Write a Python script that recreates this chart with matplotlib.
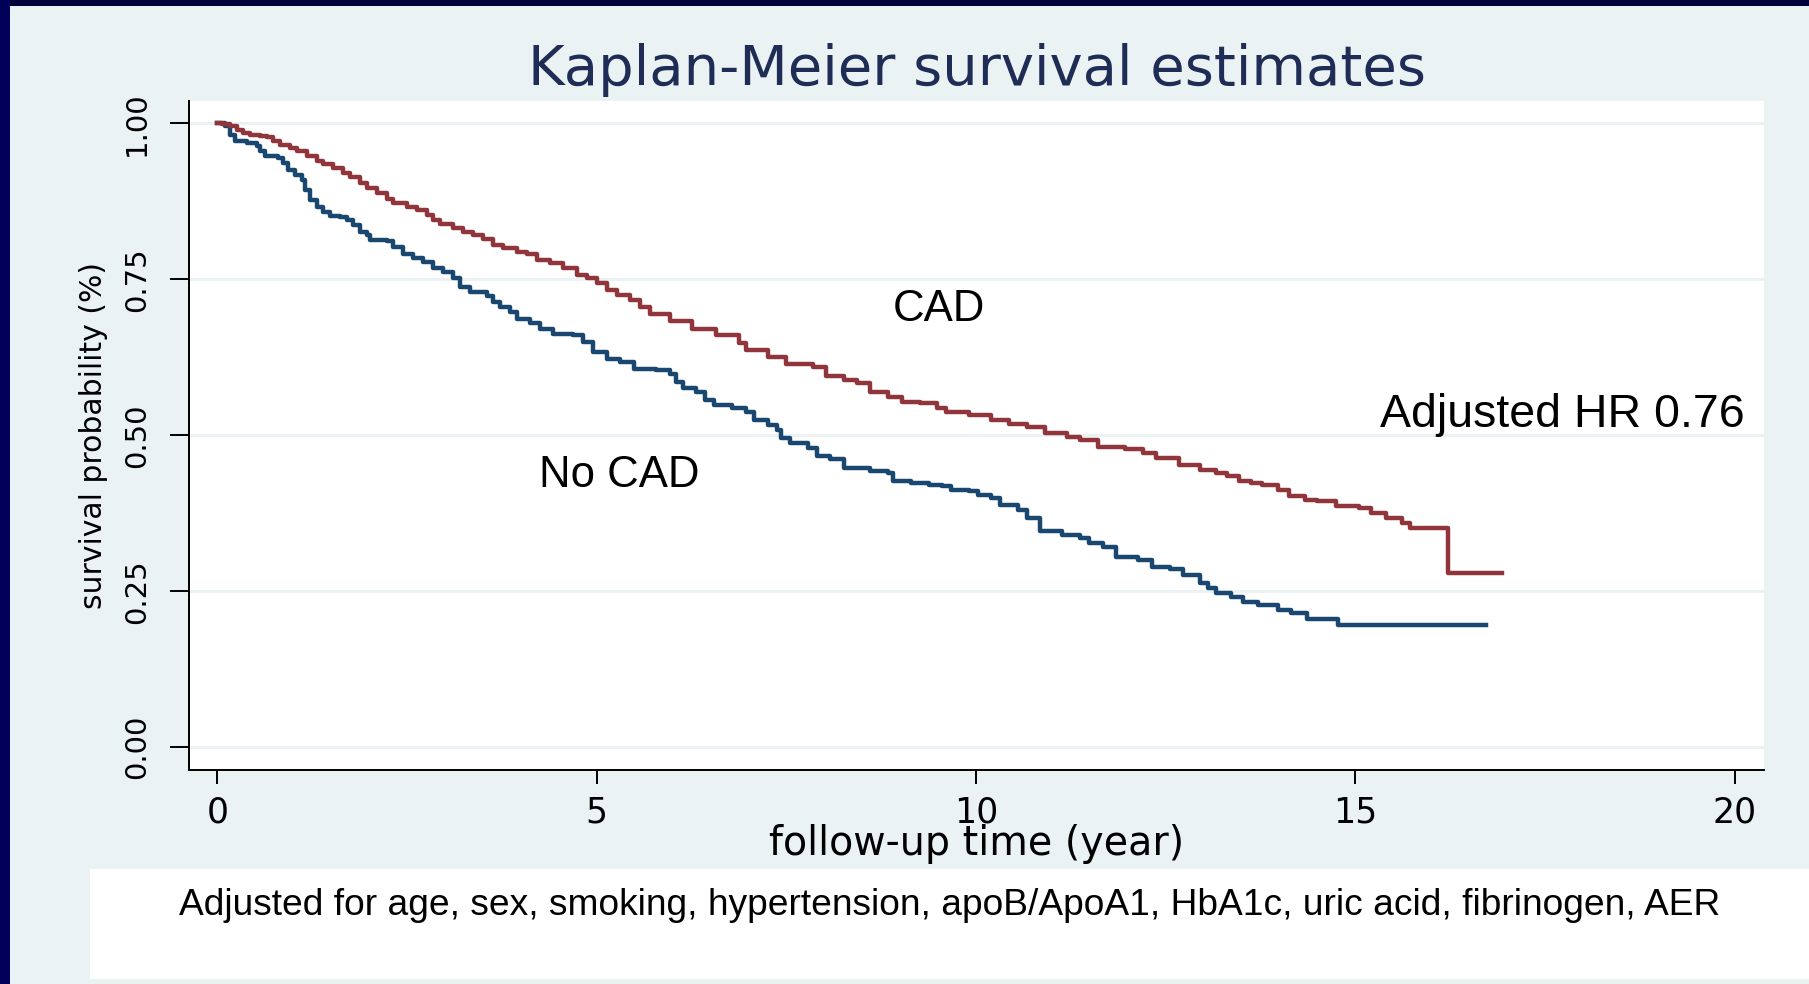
import matplotlib
matplotlib.use('Agg')
import matplotlib.pyplot as plt
from matplotlib.patches import Rectangle

# CAD group (red)
cad_time = [0, 0.056, 0.166, 0.254, 0.342, 0.430, 0.561, 0.649, 0.737, 0.825, 0.957, 1.045,
            1.177, 1.308, 1.396, 1.528, 1.660, 1.748, 1.880, 1.967, 2.099, 2.231, 2.319, 2.495,
            2.626, 2.758, 2.846, 2.934, 3.110, 3.241, 3.373, 3.505, 3.637, 3.769, 3.945, 4.076,
            4.208, 4.384, 4.560, 4.735, 4.867, 4.999, 5.131, 5.262, 5.438, 5.570, 5.702, 5.96,
            6.26, 6.57, 6.87, 6.961, 7.256, 7.491, 7.844, 8.020, 8.256, 8.432, 8.608, 8.844,
            9.021, 9.255, 9.491, 9.609, 9.904, 10.198, 10.432, 10.668, 10.903, 11.197, 11.375,
            11.609, 11.962, 12.198, 12.375, 12.669, 12.951, 13.156, 13.310, 13.463, 13.617,
            13.770, 13.975, 14.128, 14.334, 14.487, 14.743, 15.049, 15.203, 15.408, 15.612,
            15.715, 16.218, 16.933]
cad_surv = [1.000, 0.999, 0.995, 0.990, 0.984, 0.982, 0.979, 0.978, 0.971, 0.965, 0.960, 0.955,
            0.947, 0.940, 0.935, 0.928, 0.920, 0.914, 0.904, 0.896, 0.888, 0.878, 0.872, 0.866,
            0.861, 0.853, 0.845, 0.839, 0.832, 0.826, 0.821, 0.814, 0.805, 0.800, 0.793, 0.790,
            0.781, 0.776, 0.768, 0.757, 0.752, 0.744, 0.733, 0.725, 0.717, 0.706, 0.695, 0.683,
            0.670, 0.661, 0.648, 0.637, 0.626, 0.615, 0.610, 0.595, 0.589, 0.583, 0.570, 0.562,
            0.554, 0.551, 0.543, 0.538, 0.533, 0.525, 0.518, 0.514, 0.503, 0.498, 0.492,
            0.482, 0.478, 0.471, 0.463, 0.452, 0.445, 0.440, 0.434, 0.427, 0.424,
            0.420, 0.413, 0.402, 0.397, 0.395, 0.387, 0.383, 0.375, 0.367, 0.359,
            0.351, 0.280, 0.280]

# No CAD group (blue)
nocad_time = [0, 0.100, 0.166, 0.232, 0.386, 0.518, 0.561, 0.627, 0.803, 0.869, 0.935, 1.023,
              1.111, 1.155, 1.221, 1.308, 1.396, 1.484, 1.616, 1.704, 1.792, 1.880, 1.967, 2.011,
              2.231, 2.319, 2.451, 2.583, 2.714, 2.846, 2.978, 3.110, 3.198, 3.330, 3.549, 3.637,
              3.725, 3.857, 3.945, 4.120, 4.252, 4.428, 4.691, 4.823, 4.955, 5.136, 5.313, 5.490,
              5.785, 5.960, 6.049, 6.137, 6.313, 6.432, 6.549, 6.784, 6.961, 7.079, 7.256, 7.373,
              7.432, 7.550, 7.784, 7.903, 8.080, 8.256, 8.608, 8.844, 8.903, 9.138, 9.374, 9.550,
              9.668, 9.904, 10.021, 10.198, 10.315, 10.551, 10.668, 10.845, 11.139, 11.375,
              11.492, 11.669, 11.845, 12.140, 12.316, 12.551, 12.727, 12.951, 13.054, 13.156,
              13.361, 13.514, 13.720, 13.975, 14.150, 14.359, 14.769, 16.723]
nocad_surv = [1.000, 0.995, 0.981, 0.971, 0.968, 0.963, 0.955, 0.948, 0.945, 0.936, 0.925, 0.917,
              0.909, 0.893, 0.877, 0.866, 0.858, 0.851, 0.850, 0.845, 0.837, 0.826, 0.821, 0.813,
              0.811, 0.802, 0.791, 0.784, 0.777, 0.768, 0.761, 0.752, 0.738, 0.730, 0.723, 0.714,
              0.705, 0.697, 0.686, 0.680, 0.670, 0.662, 0.661, 0.650, 0.634, 0.623, 0.618, 0.607,
              0.605, 0.599, 0.586, 0.575, 0.570, 0.557, 0.549, 0.543, 0.538, 0.525, 0.517, 0.508,
              0.495, 0.488, 0.479, 0.466, 0.462, 0.447, 0.442, 0.439, 0.427, 0.423, 0.420, 0.418,
              0.412, 0.410, 0.404, 0.399, 0.388, 0.380, 0.367, 0.346, 0.340, 0.335,
              0.328, 0.321, 0.305, 0.300, 0.289, 0.285, 0.276, 0.263, 0.256, 0.248,
              0.241, 0.233, 0.228, 0.220, 0.215, 0.205, 0.196, 0.196]

x_ticks = [0, 5, 10, 15, 20]
y_ticks = [0.00, 0.25, 0.50, 0.75, 1.00]
y_tick_labels = ['0.00', '0.25', '0.50', '0.75', '1.00']

title = 'Kaplan-Meier survival estimates'
xlabel = 'follow-up time (year)'
ylabel = 'survival probability (%)'
caption = ('Adjusted for age, sex, smoking, hypertension, apoB/ApoA1, HbA1c, '
           'uric acid, fibrinogen, AER')

BG = '#EAF2F3'
RED = '#90353B'
BLUE = '#1A476F'
NAVY = '#1E2C56'

fig = plt.figure(figsize=(18.09, 9.84), dpi=100, facecolor=BG)

# slide frame (dark bands on top and left)
fig.patches.append(Rectangle((0, 1 - 6 / 984), 1, 6 / 984, transform=fig.transFigure,
                             facecolor='#00003A', edgecolor='none', zorder=0))
fig.patches.append(Rectangle((0, 0), 10 / 1809, 1, transform=fig.transFigure,
                             facecolor='#000058', edgecolor='none', zorder=0))
# white caption box
fig.patches.append(Rectangle((90 / 1809, 5 / 984), 1 - 90 / 1809, 110 / 984,
                             transform=fig.transFigure, facecolor='white',
                             edgecolor='none', zorder=0))

ax = fig.add_axes([189 / 1809, 1 - 769.5 / 984, 1575 / 1809, 668.5 / 984])
ax.set_facecolor('white')

ax.step(nocad_time, nocad_surv, where='post', color=BLUE, lw=3.2, zorder=3)
ax.step(cad_time, cad_surv, where='post', color=RED, lw=3.2, zorder=3)

ax.set_xlim(-0.374, 20.385)
ax.set_ylim(-0.0356, 1.0357)

for sp in ['top', 'right']:
    ax.spines[sp].set_visible(False)
for sp in ['left', 'bottom']:
    ax.spines[sp].set_linewidth(1.4)
    ax.spines[sp].set_color('black')

ax.set_yticks(y_ticks)
ax.set_yticklabels(y_tick_labels, rotation=90, va='center', fontsize=21,
                   family='DejaVu Sans')
ax.set_xticks(x_ticks)
ax.set_xticklabels([str(v) for v in x_ticks], fontsize=25, family='DejaVu Sans')
ax.tick_params(axis='y', length=13.5, width=1.4, pad=14)
ax.tick_params(axis='x', length=10, width=1.4, pad=9)

ax.yaxis.grid(True, color=BG, lw=2.2, zorder=1)
ax.set_axisbelow(True)

ax.set_title(title, fontsize=40.3, color=NAVY, family='DejaVu Sans', y=(769.5 - 85) / 668.5,
             pad=0)
ax.set_xlabel(xlabel, fontsize=28.5, family='DejaVu Sans')
ax.xaxis.label.set_va('baseline')
ax.xaxis.set_label_coords(0.5, (769.5 - 855) / 668.5)
ax.set_ylabel(ylabel, fontsize=21.5, family='DejaVu Sans')
ax.yaxis.set_label_coords((108 - 189) / 1575, 0.5)

# group annotations
ax.text(8.905, 0.683, 'CAD', fontsize=31.5, family='Liberation Sans', va='baseline')
ax.text(4.243, 0.4176, 'No CAD', fontsize=31.5, family='Liberation Sans', va='baseline')
ax.text(15.32, 0.513, 'Adjusted HR 0.76', fontsize=33.5, family='Liberation Sans',
        va='baseline')

fig.text(950 / 1809, (984 - 915) / 984, caption, fontsize=26.7, family='Liberation Sans',
         ha='center', va='baseline')

fig.savefig('out.png', dpi=100, facecolor=fig.get_facecolor())
